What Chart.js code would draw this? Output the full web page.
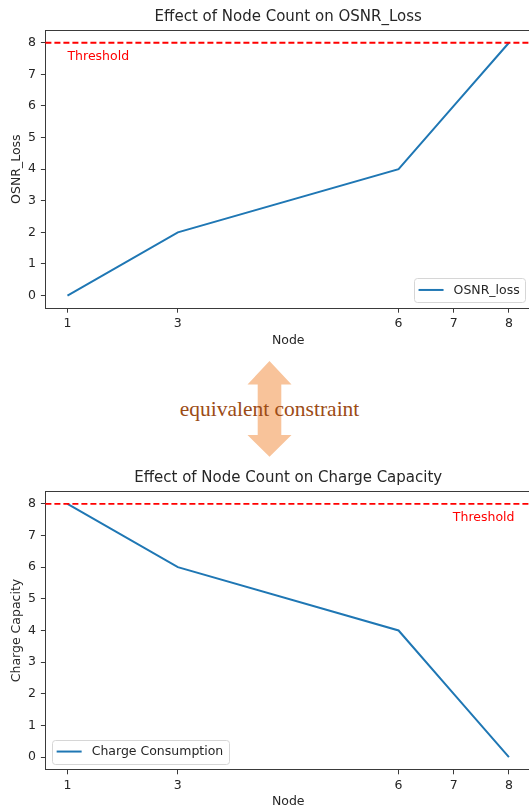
<!DOCTYPE html>
<html><head><meta charset="utf-8">
<script src="https://cdn.jsdelivr.net/npm/chart.js@4.4.1/dist/chart.umd.min.js"></script>
<style>
html,body{margin:0;padding:0;background:#fff;overflow:hidden;width:529px;height:811px;}
#wrap{position:relative;width:529px;height:811px;overflow:hidden;}
canvas{position:absolute;left:0;}
#c1{top:0;}
#c2{top:460px;}
#mid{position:absolute;left:0;top:350px;width:529px;height:110px;}
</style></head><body>
<div id="wrap">
<canvas id="c1" width="545" height="350"></canvas>
<svg id="mid" width="529" height="110" viewBox="0 0 529 110">
  <polygon points="269.5,11 291.5,34.5 281.3,34.5 281.3,85 291.5,85 269.5,106.7 247.5,85 257.7,85 257.7,34.5 247.5,34.5" fill="#f8c39a"/>
  <text x="269.5" y="58.5" text-anchor="middle" dominant-baseline="central" font-family="Liberation Serif, Times New Roman, serif" font-size="21.5" fill="#9c4c16">equivalent constraint</text>
</svg>
<canvas id="c2" width="545" height="351"></canvas>
</div>
<script>
// ---- data ----
const nodeLabels = ['1', '3', '6', '7', '8'];
const nodePositions = [0, 2, 6, 7, 8];
const osnrLoss = [0, 2, 4, 6, 8];
const chargeConsumption = [8, 6, 4, 2, 0];
const yTicks = [0, 1, 2, 3, 4, 5, 6, 7, 8];
const threshold = 8;

const FONT = 'DejaVu Sans';
const TXT = '#262626';
const SPINE = '#3a3a3a';
const BLUE = '#1f77b4';

const framePlugin = {
  id: 'frame',
  afterDraw(chart) {
    const {ctx, chartArea: a} = chart;
    ctx.save();
    ctx.strokeStyle = SPINE; ctx.lineWidth = 1;
    ctx.beginPath();
    ctx.moveTo(a.left, Math.round(a.top) + 0.5);
    ctx.lineTo(a.right, Math.round(a.top) + 0.5);
    ctx.lineTo(a.right, a.bottom);
    ctx.stroke();
    ctx.restore();
  }
};

const thresholdPlugin = {
  id: 'thresholdLine',
  afterDatasetsDraw(chart, args, opts) {
    const {ctx, chartArea: a, scales} = chart;
    const y = scales.y.getPixelForValue(opts.value);
    ctx.save();
    ctx.strokeStyle = '#ff0000'; ctx.lineWidth = 1.8;
    ctx.setLineDash([6, 3]);
    ctx.beginPath(); ctx.moveTo(a.left, y); ctx.lineTo(a.right, y); ctx.stroke();
    ctx.setLineDash([]);
    ctx.fillStyle = '#ff0000';
    ctx.font = '12.5px "' + FONT + '"';
    ctx.textBaseline = 'middle';
    ctx.textAlign = opts.align;
    ctx.fillText(opts.text, scales.x.getPixelForValue(opts.textX), scales.y.getPixelForValue(opts.textY));
    ctx.restore();
  }
};

const boxLegendPlugin = {
  id: 'boxLegend',
  afterDraw(chart, args, opts) {
    const {ctx, chartArea: a} = chart;
    const ds = chart.data.datasets[0];
    const fs = 12.5;
    ctx.save();
    ctx.font = fs + 'px "' + FONT + '"';
    const tw = ctx.measureText(ds.label).width;
    const pad = 0.5 * fs, bp = 0.4 * fs, handle = 2 * fs, gap = 0.8 * fs;
    const w = bp + handle + gap + tw + bp, h = 24;
    const x = opts.corner === 'right' ? a.right - pad - w : a.left + pad;
    const y = a.bottom - pad - h;
    ctx.beginPath();
    ctx.roundRect(Math.round(x) + 0.5, Math.round(y) + 0.5, Math.round(w), Math.round(h), 3);
    ctx.fillStyle = 'rgba(255,255,255,0.8)'; ctx.fill();
    ctx.strokeStyle = '#d6d6d6'; ctx.lineWidth = 1; ctx.stroke();
    ctx.strokeStyle = ds.borderColor; ctx.lineWidth = 2;
    ctx.beginPath(); ctx.moveTo(x + bp, y + h / 2); ctx.lineTo(x + bp + handle, y + h / 2); ctx.stroke();
    ctx.fillStyle = TXT; ctx.textBaseline = 'middle'; ctx.textAlign = 'left';
    ctx.fillText(ds.label, x + bp + handle + gap, y + h / 2 + 0.5);
    ctx.restore();
  }
};

function makeChart(id, cfg) {
  const pts = nodePositions.map((p, i) => ({x: p, y: cfg.values[i]}));
  return new Chart(document.getElementById(id), {
    type: 'line',
    data: { datasets: [{ label: cfg.label, data: pts, borderColor: BLUE, backgroundColor: BLUE, borderWidth: 2, pointRadius: 0, tension: 0, fill: false }] },
    options: {
      responsive: false, animation: false, devicePixelRatio: 1,
      layout: { padding: { left: 0, right: 14, top: 0, bottom: 0 } },
      plugins: {
        legend: { display: false }, tooltip: { enabled: false },
        title: { display: true, fullSize: false, text: cfg.title, color: TXT, font: { family: FONT, size: 15, weight: 'normal' }, padding: { top: cfg.titleTop, bottom: cfg.titleBottom } },
        thresholdLine: { value: threshold, text: 'Threshold', align: cfg.thrAlign, textX: cfg.thrX, textY: 7.55 },
        boxLegend: { corner: cfg.corner }
      },
      scales: {
        x: {
          type: 'linear', min: -0.4, max: 8.4,
          afterBuildTicks: s => { s.ticks = nodePositions.map(v => ({ value: v })); },
          afterFit: s => { s.height = cfg.xHeight; },
          ticks: { font: { family: FONT, size: 12.5 }, color: TXT, padding: 3.5, maxRotation: 0, autoSkip: false,
                   callback: v => nodeLabels[nodePositions.indexOf(v)] },
          grid: { drawOnChartArea: false, tickLength: 4.5, tickColor: SPINE, tickWidth: 1 },
          border: { color: SPINE, width: 1 },
          title: { display: true, text: 'Node', color: TXT, font: { family: FONT, size: 12.5 }, padding: { top: 0, bottom: 1.5 } }
        },
        y: {
          type: 'linear', min: -0.4, max: 8.4,
          afterBuildTicks: s => { s.ticks = yTicks.map(v => ({ value: v })); },
          afterFit: s => { s.width = 45.4; },
          ticks: { font: { family: FONT, size: 12.5 }, color: TXT, padding: 5 },
          grid: { drawOnChartArea: false, tickLength: 4.5, tickColor: SPINE, tickWidth: 1 },
          border: { color: SPINE, width: 1 },
          title: { display: true, text: cfg.yTitle, color: TXT, font: { family: FONT, size: 12.5 }, padding: { top: 9, bottom: 0 } }
        }
      }
    },
    plugins: [framePlugin, thresholdPlugin, boxLegendPlugin]
  });
}

makeChart('c1', { title: 'Effect of Node Count on OSNR_Loss', yTitle: 'OSNR_Loss', label: 'OSNR_loss', values: osnrLoss,
  corner: 'right', thrAlign: 'left', thrX: nodePositions[0], titleTop: 8, titleBottom: 4.1, xHeight: 41.8 });
makeChart('c2', { title: 'Effect of Node Count on Charge Capacity', yTitle: 'Charge Capacity', label: 'Charge Consumption', values: chargeConsumption,
  corner: 'left', thrAlign: 'right', thrX: nodePositions[nodePositions.length - 1] + 0.1, titleTop: 9.6, titleBottom: 3.6, xHeight: 41.2 });
</script>
</body></html>
